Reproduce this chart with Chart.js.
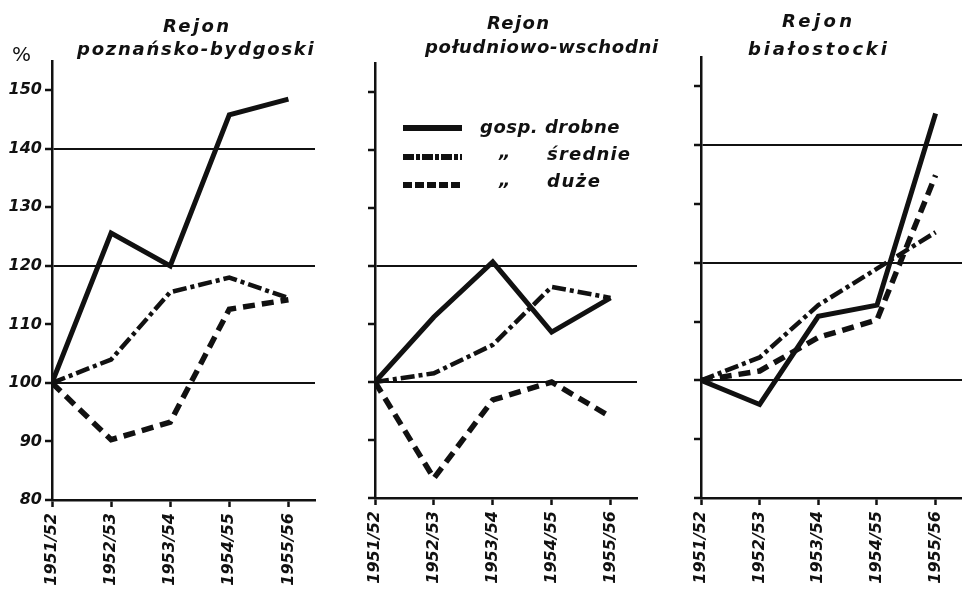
<!DOCTYPE html>
<html><head><meta charset="utf-8">
<script src="https://cdn.jsdelivr.net/npm/chart.js@4/dist/chart.umd.min.js"></script>
<style>
html,body{margin:0;padding:0;background:#fff;}
#wrap{position:relative;width:962px;height:590px;overflow:hidden;background:#fff;}
canvas{position:absolute;left:0;top:0;}
svg{position:absolute;left:0;top:0;}
.t{position:absolute;font-family:"DejaVu Sans";font-style:italic;font-weight:bold;color:#111;white-space:nowrap;line-height:1;}
</style></head><body>
<div id="wrap">
<canvas id="c1" width="962" height="590"></canvas>
<canvas id="c2" width="962" height="590"></canvas>
<canvas id="c3" width="962" height="590"></canvas>
<svg width="962" height="590">
  <line x1="403" y1="128" x2="462" y2="128" stroke="#111" stroke-width="6"/>
  <line x1="403" y1="157" x2="462" y2="157" stroke="#111" stroke-width="6" stroke-dasharray="11 2 4 2"/>
  <line x1="403" y1="185" x2="462" y2="185" stroke="#111" stroke-width="6" stroke-dasharray="9 3"/>
</svg>
<div class="t" style="left:12px;top:44px;font-size:20px;font-style:normal;font-weight:normal;">%</div>
<div class="t" id="t1a" style="left:163px;top:17px;font-size:18px;letter-spacing:2.4px;"></div>
<div class="t" id="t1b" style="left:77px;top:40px;font-size:18px;letter-spacing:1.75px;"></div>
<div class="t" id="t2a" style="left:487px;top:14px;font-size:18px;letter-spacing:1.4px;"></div>
<div class="t" id="t2b" style="left:425px;top:38px;font-size:18px;letter-spacing:0.7px;"></div>
<div class="t" id="t3a" style="left:782px;top:12px;font-size:18px;letter-spacing:3.4px;"></div>
<div class="t" id="t3b" style="left:748px;top:40px;font-size:18px;letter-spacing:2.8px;"></div>
<div class="t" id="l1" style="left:480px;top:118px;font-size:18px;letter-spacing:0.5px;"></div>
<div class="t" id="d2" style="left:499px;top:143px;font-size:18px;">„</div>
<div class="t" id="l2" style="left:547px;top:145px;font-size:18px;letter-spacing:1.2px;"></div>
<div class="t" id="d3" style="left:499px;top:171px;font-size:18px;">„</div>
<div class="t" id="l3" style="left:547px;top:172px;font-size:18px;letter-spacing:1.5px;"></div>
</div>
<script>
// ---- data ----
const categories = ['1951/52','1952/53','1953/54','1954/55','1955/56'];
const yTickValues = [80, 90, 100, 110, 120, 130, 140, 150];
const seriesNames = ['gosp. drobne', 'średnie', 'duże'];
const regionWord = 'Rejon';
const regionNames = ['poznańsko-bydgoski', 'południowo-wschodni', 'białostocki'];

// Rejon poznańsko-bydgoski
const pbDrobne  = [100, 125.6, 120.0, 145.8, 148.5];
const pbSrednie = [100, 104.0, 115.5, 118.0, 114.5];
const pbDuze    = [100,  90.3,  93.3, 112.6, 114.2];
// Rejon południowo-wschodni
const pwDrobne  = [100, 111.2, 120.7, 108.6, 114.5];
const pwSrednie = [100, 101.5, 106.4, 116.4, 114.5];
const pwDuze    = [100,  83.4,  96.9, 100.0,  94.0];
// Rejon białostocki
const bDrobne   = [100,  95.9, 110.9, 112.8, 145.4];
const bSrednie  = [100, 103.9, 112.8, 119.0, 125.2];
const bDuze     = [100, 101.6, 107.3, 110.3, 134.9];

// reference lines drawn across each panel
const pbRefLines = [100, 120, 140];
const pwRefLines = [100, 120];
const bRefLines  = [100, 120, 140];

// ---- texts ----
document.getElementById('t1a').textContent = regionWord;
document.getElementById('t2a').textContent = regionWord;
document.getElementById('t3a').textContent = regionWord;
document.getElementById('t1b').textContent = regionNames[0];
document.getElementById('t2b').textContent = regionNames[1];
document.getElementById('t3b').textContent = regionNames[2];
document.getElementById('l1').textContent = seriesNames[0];
document.getElementById('l2').textContent = seriesNames[1];
document.getElementById('l3').textContent = seriesNames[2];

// ---- charts ----
const INK = '#111';
const FONT = 'DejaVu Sans';
const W = 962, H = 590;

function pts(arr){ return arr.map((v,i)=>({x:i, y:v})); }

function makePanel(id, box, series, refLines, showLabels){
  const yW = showLabels ? 52 : 10;
  const styles = [
    {borderDash: [], borderWidth: 5},
    {borderDash: [14, 4, 4, 4], borderWidth: 4.5},
    {borderDash: [12, 7], borderWidth: 5.5}
  ];
  new Chart(document.getElementById(id), {
    type: 'line',
    data: {
      datasets: series.map((s, k) => ({
        label: seriesNames[k],
        data: pts(s),
        borderColor: INK,
        backgroundColor: INK,
        borderWidth: styles[k].borderWidth,
        borderDash: styles[k].borderDash,
        pointRadius: 0,
        tension: 0,
        fill: false,
        borderJoinStyle: 'miter'
      }))
    },
    options: {
      responsive: false,
      animation: false,
      devicePixelRatio: 1,
      events: [],
      layout: { padding: { left: box.left - yW, right: W - box.right, top: box.top, bottom: 0 } },
      plugins: { legend: { display: false }, tooltip: { enabled: false } },
      scales: {
        x: {
          type: 'linear',
          min: 0,
          max: 4.45,
          afterBuildTicks: sc => { sc.ticks = categories.map((c,i)=>({value:i})); },
          afterFit: sc => { sc.height = H - box.bottom; },
          ticks: {
            autoSkip: false,
            minRotation: 90,
            maxRotation: 90,
            padding: 6,
            color: INK,
            font: { family: FONT, style: 'italic', weight: 'bold', size: 16 },
            callback: v => categories[v]
          },
          grid: { drawOnChartArea: false, drawTicks: true, tickLength: 7, tickColor: INK, tickWidth: 2.5, color: INK },
          border: { display: true, color: INK, width: 2.5 }
        },
        y: {
          type: 'linear',
          min: 80,
          max: 155,
          afterBuildTicks: sc => { sc.ticks = yTickValues.map(v=>({value:v})); },
          afterFit: sc => { sc.width = yW; },
          ticks: {
            display: showLabels,
            padding: 3,
            color: INK,
            font: { family: FONT, style: 'italic', weight: 'bold', size: 16 },
            callback: v => String(v)
          },
          grid: {
            drawTicks: true,
            tickLength: 7,
            tickWidth: 2.5,
            tickColor: INK,
            lineWidth: 2,
            color: ctx => (ctx.tick && refLines.includes(ctx.tick.value)) ? INK : 'rgba(0,0,0,0)'
          },
          border: { display: true, color: INK, width: 2.5 }
        }
      }
    }
  });
}

Chart.defaults.font.family = FONT;
makePanel('c1', {left: 52, right: 315, top: 61, bottom: 500}, [pbDrobne, pbSrednie, pbDuze], pbRefLines, true);
makePanel('c2', {left: 375, right: 637, top: 63, bottom: 498}, [pwDrobne, pwSrednie, pwDuze], pwRefLines, false);
makePanel('c3', {left: 701, right: 962, top: 57, bottom: 498}, [bDrobne, bSrednie, bDuze], bRefLines, false);
</script>
</body></html>
